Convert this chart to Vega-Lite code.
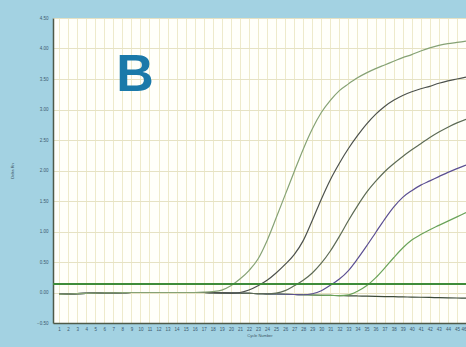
{
  "$schema": "https://vega.github.io/schema/vega-lite/v6.json",
  "autosize": "none",
  "width": 413,
  "height": 305,
  "padding": {"left": 53, "top": 18, "right": 0, "bottom": 24},
  "background": "#a3d2e2",
  "config": {
    "view": {"fill": "#fffffa", "stroke": null},
    "font": "Liberation Sans"
  },
  "datasets": {
    "curves": [
      {"cycle": 1, "A": -0.03, "B": -0.03, "C": -0.03, "D": -0.03, "E": -0.03, "NTC": -0.03},
      {"cycle": 2, "A": -0.025, "B": -0.025, "C": -0.025, "D": -0.025, "E": -0.025, "NTC": -0.025},
      {"cycle": 3, "A": -0.02, "B": -0.02, "C": -0.02, "D": -0.02, "E": -0.02, "NTC": -0.02},
      {"cycle": 4, "A": -0.015, "B": -0.015, "C": -0.015, "D": -0.015, "E": -0.015, "NTC": -0.015},
      {"cycle": 5, "A": -0.01, "B": -0.01, "C": -0.01, "D": -0.01, "E": -0.01, "NTC": -0.01},
      {"cycle": 6, "A": -0.007, "B": -0.007, "C": -0.007, "D": -0.007, "E": -0.007, "NTC": -0.007},
      {"cycle": 7, "A": -0.005, "B": -0.005, "C": -0.005, "D": -0.005, "E": -0.005, "NTC": -0.005},
      {"cycle": 8, "A": -0.003, "B": -0.003, "C": -0.003, "D": -0.003, "E": -0.003, "NTC": -0.003},
      {"cycle": 9, "A": 0, "B": 0, "C": 0, "D": 0, "E": 0, "NTC": 0},
      {"cycle": 10, "A": 0, "B": 0, "C": 0, "D": 0, "E": 0, "NTC": 0},
      {"cycle": 11, "A": 0, "B": 0, "C": 0, "D": 0, "E": 0, "NTC": 0},
      {"cycle": 12, "A": 0, "B": 0, "C": 0, "D": 0, "E": 0, "NTC": 0},
      {"cycle": 13, "A": 0, "B": 0, "C": 0, "D": 0, "E": 0, "NTC": 0},
      {"cycle": 14, "A": 0, "B": 0, "C": 0, "D": 0, "E": 0, "NTC": 0},
      {"cycle": 15, "A": 0, "B": 0, "C": 0, "D": 0, "E": 0, "NTC": 0},
      {"cycle": 16, "A": 0, "B": 0, "C": 0, "D": 0, "E": 0, "NTC": 0},
      {"cycle": 17, "A": 0.005, "B": 0, "C": 0, "D": 0, "E": 0, "NTC": 0},
      {"cycle": 18, "A": 0.015, "B": -0.003, "C": -0.003, "D": -0.003, "E": -0.003, "NTC": -0.003},
      {"cycle": 19, "A": 0.04, "B": -0.006, "C": -0.006, "D": -0.006, "E": -0.006, "NTC": -0.006},
      {"cycle": 20, "A": 0.11, "B": -0.009, "C": -0.009, "D": -0.009, "E": -0.009, "NTC": -0.009},
      {"cycle": 21, "A": 0.22, "B": 0.0, "C": -0.012, "D": -0.012, "E": -0.012, "NTC": -0.012},
      {"cycle": 22, "A": 0.36, "B": 0.04, "C": -0.015, "D": -0.015, "E": -0.015, "NTC": -0.015},
      {"cycle": 23, "A": 0.55, "B": 0.11, "C": -0.018, "D": -0.018, "E": -0.018, "NTC": -0.018},
      {"cycle": 24, "A": 0.85, "B": 0.2, "C": -0.021, "D": -0.021, "E": -0.021, "NTC": -0.021},
      {"cycle": 25, "A": 1.22, "B": 0.32, "C": -0.01, "D": -0.025, "E": -0.025, "NTC": -0.025},
      {"cycle": 26, "A": 1.6, "B": 0.46, "C": 0.03, "D": -0.029, "E": -0.029, "NTC": -0.029},
      {"cycle": 27, "A": 1.98, "B": 0.62, "C": 0.11, "D": -0.033, "E": -0.033, "NTC": -0.033},
      {"cycle": 28, "A": 2.35, "B": 0.85, "C": 0.2, "D": -0.037, "E": -0.037, "NTC": -0.037},
      {"cycle": 29, "A": 2.68, "B": 1.18, "C": 0.32, "D": -0.02, "E": -0.041, "NTC": -0.041},
      {"cycle": 30, "A": 2.95, "B": 1.53, "C": 0.48, "D": 0.03, "E": -0.045, "NTC": -0.045},
      {"cycle": 31, "A": 3.15, "B": 1.85, "C": 0.68, "D": 0.12, "E": -0.048, "NTC": -0.048},
      {"cycle": 32, "A": 3.31, "B": 2.12, "C": 0.92, "D": 0.22, "E": -0.051, "NTC": -0.051},
      {"cycle": 33, "A": 3.42, "B": 2.36, "C": 1.18, "D": 0.36, "E": -0.04, "NTC": -0.054},
      {"cycle": 34, "A": 3.52, "B": 2.57, "C": 1.42, "D": 0.55, "E": 0.02, "NTC": -0.057},
      {"cycle": 35, "A": 3.6, "B": 2.76, "C": 1.64, "D": 0.76, "E": 0.11, "NTC": -0.06},
      {"cycle": 36, "A": 3.67, "B": 2.92, "C": 1.82, "D": 0.98, "E": 0.24, "NTC": -0.063},
      {"cycle": 37, "A": 3.73, "B": 3.05, "C": 1.98, "D": 1.2, "E": 0.4, "NTC": -0.066},
      {"cycle": 38, "A": 3.79, "B": 3.15, "C": 2.11, "D": 1.4, "E": 0.57, "NTC": -0.069},
      {"cycle": 39, "A": 3.85, "B": 3.23, "C": 2.23, "D": 1.56, "E": 0.73, "NTC": -0.072},
      {"cycle": 40, "A": 3.9, "B": 3.29, "C": 2.34, "D": 1.67, "E": 0.86, "NTC": -0.075},
      {"cycle": 41, "A": 3.96, "B": 3.34, "C": 2.44, "D": 1.76, "E": 0.95, "NTC": -0.078},
      {"cycle": 42, "A": 4.01, "B": 3.38, "C": 2.54, "D": 1.83, "E": 1.03, "NTC": -0.081},
      {"cycle": 43, "A": 4.05, "B": 3.43, "C": 2.63, "D": 1.9, "E": 1.1, "NTC": -0.084},
      {"cycle": 44, "A": 4.08, "B": 3.47, "C": 2.71, "D": 1.97, "E": 1.17, "NTC": -0.087},
      {"cycle": 45, "A": 4.1, "B": 3.5, "C": 2.78, "D": 2.03, "E": 1.24, "NTC": -0.09},
      {"cycle": 46, "A": 4.12, "B": 3.53, "C": 2.84, "D": 2.09, "E": 1.31, "NTC": -0.093}
    ],
    "threshold": [{"value": 0.14}],
    "label": [{"text": "B", "cycle": 9.4, "value": 3.57}]
  },
  "layer": [
    {
      "data": {"name": "curves"},
      "transform": [{"fold": ["NTC", "E", "D", "C", "B", "A"], "as": ["well", "rn"]}],
      "mark": {"type": "line", "strokeWidth": 1.2, "clip": true, "interpolate": "monotone"},
      "encoding": {
        "x": {
          "field": "cycle", "type": "quantitative",
          "scale": {"domain": [0.33, 46], "nice": false, "zero": false},
          "axis": {
            "title": "Cycle Number", "titleFontSize": 4, "titleFontWeight": "normal", "titleColor": "#3d5565",
            "titlePadding": 3,
            "tickCount": 100,
            "format": "d",
            "values": [1,2,3,4,5,6,7,8,9,10,11,12,13,14,15,16,17,18,19,20,21,22,23,24,25,26,27,28,29,30,31,32,33,34,35,36,37,38,39,40,41,42,43,44,45,46],
            "labelFontSize": 4.5, "labelColor": "#3d5a6e", "labelPadding": 3, "labelOverlap": false, "labelFlush": true,
            "ticks": false, "domainColor": "#4e5a48", "domainWidth": 1.5,
            "grid": true, "gridColor": "#eeeacb", "gridWidth": 1
          }
        },
        "y": {
          "field": "rn", "type": "quantitative",
          "scale": {"domain": [-0.5, 4.5], "nice": false},
          "axis": {
            "title": "Delta Rn", "titleFontSize": 4, "titleFontWeight": "normal", "titleColor": "#3d5565",
            "titlePadding": 22,
            "tickCount": 100,
            "values": [-0.5, 0, 0.5, 1, 1.5, 2, 2.5, 3, 3.5, 4, 4.5],
            "format": ".2f",
            "labelFontSize": 4.5, "labelColor": "#3d5a6e", "labelPadding": 5, "labelOverlap": false, "labelFlush": false,
            "ticks": false, "domainColor": "#4e5a48", "domainWidth": 1.5,
            "grid": true, "gridColor": "#e6e2c4", "gridWidth": 1
          }
        },
        "color": {
          "field": "well", "type": "nominal", "legend": null,
          "scale": {
            "domain": ["A", "B", "C", "D", "E", "NTC"],
            "range": ["#86a275", "#4d524d", "#5d6b56", "#5b4f92", "#6aa35a", "#3c4a3a"]
          }
        },
        "detail": {"field": "well"}
      }
    },
    {
      "data": {"name": "threshold"},
      "mark": {"type": "rule", "color": "#3e8c3a", "strokeWidth": 2},
      "encoding": {"y": {"field": "value", "type": "quantitative"}}
    },
    {
      "data": {"name": "label"},
      "mark": {"type": "text", "fontSize": 52, "fontWeight": "bold", "font": "Liberation Sans", "color": "#1a79a9", "baseline": "middle", "align": "center"},
      "encoding": {
        "x": {"field": "cycle", "type": "quantitative"},
        "y": {"field": "value", "type": "quantitative"},
        "text": {"field": "text"}
      }
    }
  ]
}
